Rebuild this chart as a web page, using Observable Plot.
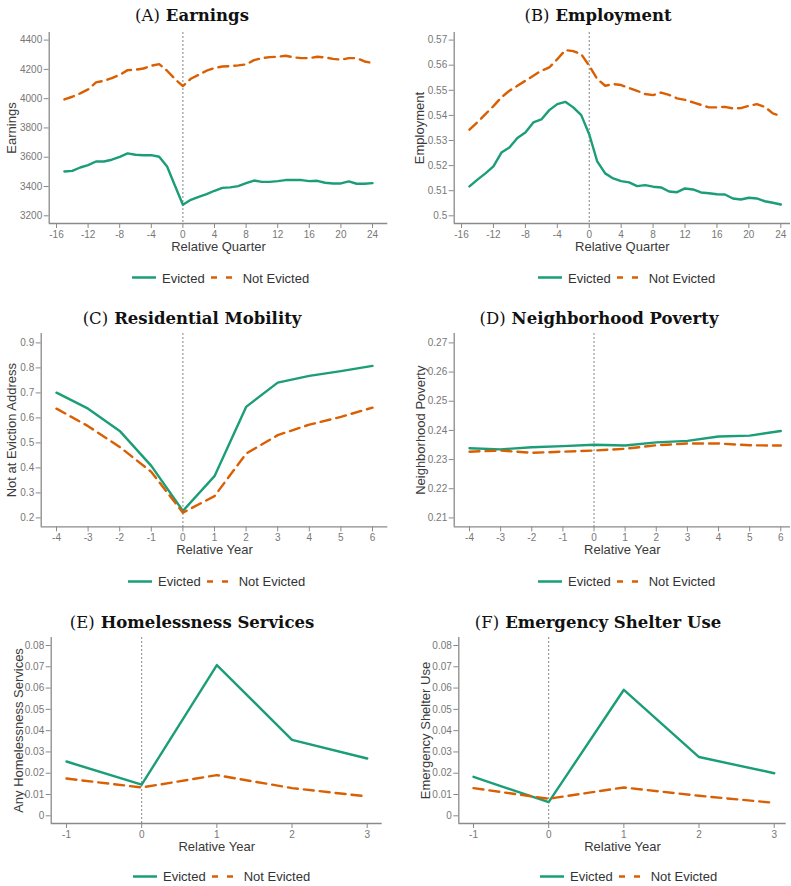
<!DOCTYPE html>
<html>
<head>
<meta charset="utf-8">
<script src="https://cdn.jsdelivr.net/npm/d3@7"></script>
<script src="https://cdn.jsdelivr.net/npm/@observablehq/plot@0.6"></script>
<style>
  html, body { margin: 0; padding: 0; background: #fff; }
  #root { position: relative; width: 791px; height: 886px; overflow: hidden; background: #fff; }
  .panel-svg { position: absolute; }
  .title { position: absolute; transform: translate(-50%, -50%); white-space: nowrap;
           font-family: "DejaVu Serif", serif; font-size: 16.5px; color: #111; }
  .title b { margin-left: 6px; }
  .legend { position: absolute; transform: translateY(-50%); display: flex; align-items: center;
            font-family: "Liberation Sans", Arial, sans-serif; font-size: 13px; color: #333; white-space: nowrap; }
  .legend svg { display: block; }
</style>
</head>
<body>
<div id="root"></div>
<script>
// ---------- data ----------
const quarters = [-15,-14,-13,-12,-11,-10,-9,-8,-7,-6,-5,-4,-3,-2,-1,0,1,2,3,4,5,6,7,8,9,10,11,12,13,14,15,16,17,18,19,20,21,22,23,24];
const years = [-4,-3,-2,-1,0,1,2,3,4,5,6];
const yearsShort = [-1,0,1,2,3];

const earningsEvicted = [3503,3507,3530,3546,3571,3571,3583,3603,3626,3617,3614,3614,3603,3537,3405,3275,3309,3330,3348,3371,3391,3394,3403,3423,3441,3432,3432,3437,3444,3444,3444,3437,3439,3426,3421,3421,3435,3419,3419,3423];
const earningsNotEvicted = [3995,4013,4036,4063,4111,4122,4140,4163,4195,4197,4206,4225,4236,4191,4134,4086,4136,4163,4191,4209,4220,4222,4227,4234,4263,4277,4284,4286,4293,4282,4277,4277,4286,4282,4272,4266,4277,4277,4254,4243];

const employmentEvicted = [0.5117,0.5144,0.5169,0.5197,0.5252,0.5272,0.5310,0.5332,0.5372,0.5384,0.5421,0.5445,0.5454,0.5432,0.5401,0.5325,0.5217,0.5169,0.5149,0.5138,0.5133,0.5118,0.5122,0.5116,0.5113,0.5097,0.5094,0.5109,0.5105,0.5093,0.5090,0.5086,0.5085,0.5069,0.5065,0.5072,0.5069,0.5058,0.5052,0.5045];
const employmentNotEvicted = [0.5343,0.5373,0.5405,0.5437,0.5472,0.5498,0.5518,0.5538,0.5558,0.5578,0.5591,0.5624,0.5660,0.5656,0.5644,0.5598,0.5545,0.5518,0.5525,0.5521,0.5509,0.5498,0.5485,0.5481,0.5491,0.5482,0.5468,0.5462,0.5452,0.5442,0.5432,0.5432,0.5434,0.5428,0.5429,0.5438,0.5445,0.5434,0.5408,0.5398];

const mobilityEvicted = [0.701,0.637,0.548,0.408,0.228,0.367,0.644,0.741,0.768,0.787,0.808];
const mobilityNotEvicted = [0.637,0.567,0.484,0.384,0.221,0.287,0.457,0.531,0.573,0.604,0.641];

const povertyEvicted = [0.2339,0.2335,0.2342,0.2346,0.2351,0.2348,0.2359,0.2364,0.2379,0.2382,0.2398];
const povertyNotEvicted = [0.2327,0.2331,0.2323,0.2327,0.2331,0.2337,0.2349,0.2355,0.2355,0.2349,0.2348];

const homelessEvicted = [0.0255,0.0146,0.0708,0.0357,0.0269];
const homelessNotEvicted = [0.0175,0.0133,0.0191,0.0130,0.0091];

const shelterEvicted = [0.0183,0.0064,0.0592,0.0276,0.0200];
const shelterNotEvicted = [0.0130,0.0080,0.0133,0.0094,0.0061];

// tick labels
const quarterTicks = [-16,-12,-8,-4,0,4,8,12,16,20,24];
const yearTicks = [-4,-3,-2,-1,0,1,2,3,4,5,6];
const yearTicksShort = [-1,0,1,2,3];
const earningsTicks = [3200,3400,3600,3800,4000,4200,4400];
const employmentTicks = [0.5,0.51,0.52,0.53,0.54,0.55,0.56,0.57];
const mobilityTicks = [0.2,0.3,0.4,0.5,0.6,0.7,0.8,0.9];
const povertyTicks = [0.21,0.22,0.23,0.24,0.25,0.26,0.27];
const shareTicks = [0,0.01,0.02,0.03,0.04,0.05,0.06,0.07,0.08];

const seriesNames = ["Evicted", "Not Evicted"];
const colors = ["#1b9e77", "#d95f02"];

// ---------- panels ----------
const panels = [
  { letter: "(A)", name: "Earnings", xlabel: "Relative Quarter", ylabel: "Earnings",
    xs: quarters, a: earningsEvicted, b: earningsNotEvicted, xt: quarterTicks, yt: earningsTicks,
    colX: 0, W: 395, left: 48.7, right: 387.3, top: 31.7, bottom: 222.7,
    xcal: [-16, 56, 24, 372], ycal: [4400, 39.3, 3200, 215],
    titleX: 192, titleY: 15, ylabelX: 11.5, legendX: 132, legendY: 277.7 },
  { letter: "(B)", name: "Employment", xlabel: "Relative Quarter", ylabel: "Employment",
    xs: quarters, a: employmentEvicted, b: employmentNotEvicted, xt: quarterTicks, yt: employmentTicks,
    colX: 395, W: 396, left: 453.7, right: 790, top: 31.7, bottom: 222.7,
    xcal: [-16, 461, 24, 780.3], ycal: [0.57, 39.3, 0.5, 215],
    titleX: 598, titleY: 15, ylabelX: 419, legendX: 538, legendY: 277.7 },
  { letter: "(C)", name: "Residential Mobility", xlabel: "Relative Year", ylabel: "Not at Eviction Address",
    xs: years, a: mobilityEvicted, b: mobilityNotEvicted, xt: yearTicks, yt: mobilityTicks,
    colX: 0, W: 395, left: 40.7, right: 387.3, top: 333.3, bottom: 526.7,
    xcal: [-4, 56, 6, 372], ycal: [0.9, 342.7, 0.2, 517.7],
    titleX: 192, titleY: 318, ylabelX: 11, legendX: 128, legendY: 581 },
  { letter: "(D)", name: "Neighborhood Poverty", xlabel: "Relative Year", ylabel: "Neighborhood Poverty",
    xs: years, a: povertyEvicted, b: povertyNotEvicted, xt: yearTicks, yt: povertyTicks,
    colX: 395, W: 396, left: 453.7, right: 790, top: 333.3, bottom: 526.7,
    xcal: [-4, 469, 6, 780.3], ycal: [0.27, 342.7, 0.21, 517.7],
    titleX: 599, titleY: 318, ylabelX: 420.5, legendX: 538, legendY: 581 },
  { letter: "(E)", name: "Homelessness Services", xlabel: "Relative Year", ylabel: "Any Homelessness Services",
    xs: yearsShort, a: homelessEvicted, b: homelessNotEvicted, xt: yearTicksShort, yt: shareTicks,
    colX: 0, W: 395, left: 50.7, right: 381.7, top: 636.7, bottom: 822.7,
    xcal: [-1, 66, 3, 366.7], ycal: [0.08, 644.7, 0, 815],
    titleX: 192, titleY: 622, ylabelX: 18.5, legendX: 133, legendY: 876 },
  { letter: "(F)", name: "Emergency Shelter Use", xlabel: "Relative Year", ylabel: "Emergency Shelter Use",
    xs: yearsShort, a: shelterEvicted, b: shelterNotEvicted, xt: yearTicksShort, yt: shareTicks,
    colX: 395, W: 396, left: 458.3, right: 785.7, top: 636.7, bottom: 822.7,
    xcal: [-1, 473, 3, 773.7], ycal: [0.08, 644.7, 0, 815],
    titleX: 598, titleY: 622, ylabelX: 425, legendX: 540, legendY: 876 }
];

function cal([v1, p1, v2, p2], lo, hi) {
  const k = (v2 - v1) / (p2 - p1);
  return [v1 + (lo - p1) * k, v1 + (hi - p1) * k];
}
const fmt = d => String(+(+d).toFixed(4));

const root = document.getElementById("root");
const MT = 10, MB = 34;

for (const p of panels) {
  const xDom = cal(p.xcal, p.left, p.right);
  const yDom = cal(p.ycal, p.bottom, p.top);
  const H = p.bottom - p.top + MT + MB;
  const rows = [];
  p.xs.forEach((x, i) => {
    rows.push({ x, y: p.a[i], s: seriesNames[0] });
    rows.push({ x, y: p.b[i], s: seriesNames[1] });
  });
  const chart = Plot.plot({
    width: p.W, height: H,
    marginLeft: p.left - p.colX, marginRight: p.colX + p.W - p.right,
    marginTop: MT, marginBottom: MB,
    x: { domain: xDom },
    y: { domain: yDom },
    style: { fontFamily: "'Liberation Sans', Arial, sans-serif", background: "transparent", overflow: "visible" },
    marks: [
      Plot.axisX(p.xt, { tickSize: 5, tickPadding: 2, fontSize: 10, stroke: "#8a8a8a", fill: "#777", tickFormat: fmt, label: null }),
      Plot.axisY(p.yt, { tickSize: 5, tickPadding: 2, fontSize: 10, stroke: "#8a8a8a", fill: "#777", tickFormat: fmt, label: null }),
      Plot.ruleX([xDom[0]], { stroke: "#8a8a8a", strokeWidth: 1.3 }),
      Plot.ruleY([yDom[0]], { stroke: "#8a8a8a", strokeWidth: 1.3 }),
      Plot.ruleX([0], { stroke: "#666", strokeWidth: 0.8, strokeDasharray: "2,2" }),
      Plot.line(rows.filter(d => d.s === seriesNames[0]), { x: "x", y: "y", stroke: colors[0], strokeWidth: 2.4 }),
      Plot.line(rows.filter(d => d.s === seriesNames[1]), { x: "x", y: "y", stroke: colors[1], strokeWidth: 2.4, strokeDasharray: "10,6" }),
      Plot.text([p.ylabel], { frameAnchor: "left", rotate: -90, dx: p.ylabelX - p.left, textAnchor: "middle", lineAnchor: "middle", fontSize: 13, fill: "#3a3a3a" }),
      Plot.text([p.xlabel], { frameAnchor: "bottom", dy: 23.3, textAnchor: "middle", lineAnchor: "middle", fontSize: 13, fill: "#3a3a3a" })
    ]
  });
  chart.classList.add("panel-svg");
  chart.style.left = p.colX + "px";
  chart.style.top = (p.top - MT) + "px";
  root.appendChild(chart);

  const t = document.createElement("div");
  t.className = "title";
  t.style.left = p.titleX + "px";
  t.style.top = p.titleY + "px";
  t.innerHTML = `<span>${p.letter}</span><b>${p.name}</b>`;
  root.appendChild(t);

  const lg = document.createElement("div");
  lg.className = "legend";
  lg.style.left = p.legendX + "px";
  lg.style.top = p.legendY + "px";
  lg.innerHTML =
    `<svg width="24" height="6"><line x1="0" y1="3" x2="24" y2="3" stroke="${colors[0]}" stroke-width="2.4"/></svg>` +
    `<span style="margin-left:6px">${seriesNames[0]}</span>` +
    `<svg width="23" height="6" style="margin-left:6px"><line x1="0" y1="3" x2="23" y2="3" stroke="${colors[1]}" stroke-width="2.4" stroke-dasharray="6,9"/></svg>` +
    `<span style="margin-left:9px">${seriesNames[1]}</span>`;
  root.appendChild(lg);
}
</script>
</body>
</html>
